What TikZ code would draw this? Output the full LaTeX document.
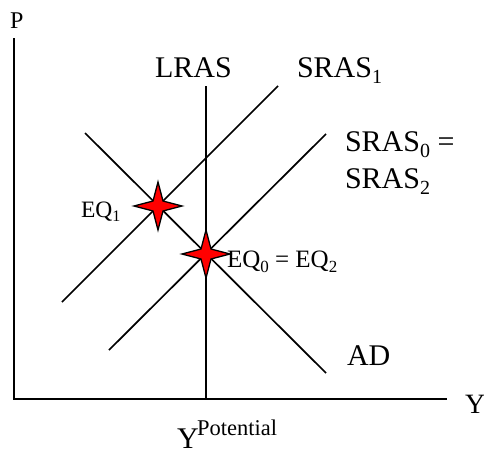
\documentclass[tikz,border=0pt]{standalone}
\usepackage{fontspec}
\setmainfont{Liberation Serif}
\newcommand\bigf{\fontsize{30}{32}\selectfont}
\newcommand\midf{\fontsize{25}{27}\selectfont}
\newcommand\smf{\fontsize{23.5}{25}\selectfont}
\newcommand\lowsub[2]{\raisebox{-0.2em}{\fontsize{#1}{#1}\selectfont #2}}
\begin{document}
\begin{tikzpicture}[x=1pt,y=-1pt,
  axisline/.style={line width=1.7pt},
  curve/.style={line width=1.7pt},
  lbl/.style={anchor=base west,inner sep=0pt,outer sep=0pt},
  eqstar/.style={fill=red,draw=black,line width=1.3pt,line join=miter}]
\useasboundingbox (0,0) rectangle (484,453);
% coordinates
\coordinate (ytop) at (14,38);
\coordinate (origin) at (14,399);
\coordinate (xend) at (447,399);
\coordinate (lrastop) at (206,86);
\coordinate (lrasbot) at (206,399);
\coordinate (s1a) at (62,302);
\coordinate (s1b) at (278,86);
\coordinate (s0a) at (109,350);
\coordinate (s0b) at (326,134);
\coordinate (ada) at (85,133);
\coordinate (adb) at (326,373);
\coordinate (eq1) at (158,206);
\coordinate (eq0) at (206,254);
% axes and curves
\draw[axisline] (ytop) -- (origin) -- (xend);
\draw[curve] (lrastop) -- (lrasbot);
\draw[curve] (s1a) -- (s1b);
\draw[curve] (s0a) -- (s0b);
\draw[curve] (ada) -- (adb);
% stars
\foreach \c in {eq1,eq0}{
  \draw[eqstar] (\c) ++(0,-24) -- ++(5,19) -- ++(19,5) -- ++(-19,5) -- ++(-5,19) -- ++(-5,-19) -- ++(-19,-5) -- ++(19,-5) -- cycle;
}
% labels
\node[lbl] (P) at (10,28) {\fontsize{24}{25}\selectfont P};
\node[lbl] (Y) at (465,413) {\fontsize{28}{30}\selectfont Y};
\node[lbl] (lras) at (155,77) {\bigf LRAS};
\node[lbl] (sras1) at (297,77) {\bigf SRAS\lowsub{20}{1}};
\node[lbl] (sras0) at (345,151) {\bigf SRAS\lowsub{20}{0} =};
\node[lbl] (sras2) at (345,188) {\bigf SRAS\lowsub{20}{2}};
\node[lbl] (ad) at (347,365) {\bigf AD};
\node[lbl] (eq1l) at (81,217) {\smf EQ\lowsub{16}{1}};
\node[lbl] (eq0l) at (227,267) {\midf EQ\lowsub{17}{0} = EQ\lowsub{17}{2}};
\node[lbl,text depth=0pt] (ypot) at (177,448) {\bigf Y};
\node[lbl] (pot) at (197,435) {\fontsize{22.5}{24}\selectfont Potential};
\end{tikzpicture}
\end{document}
